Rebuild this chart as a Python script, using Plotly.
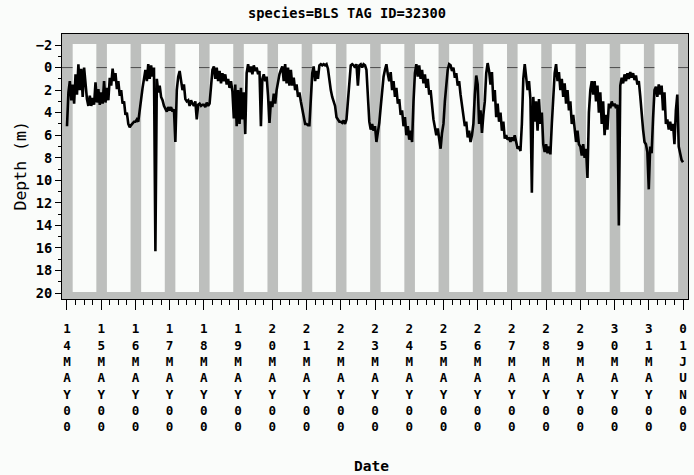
import pandas as pd
import plotly.graph_objects as go

# Hourly depth readings (m) for tag 32300, one list per day starting at 00:00
may14 = [5.2, 2.2, 1.2, 2.9, 1.5, 3.2, 0.6, 2.4, -0.3, 2.0, 0.1, 2.6, 0.0, 1.8, 2.8, 3.4, 2.5, 3.4, 2.7, 3.3, 1.3, 3.1, 1.9, 3.3]
may15 = [2.2, 3.2, 1.2, 3.1, 1.8, 2.9, 0.9, 1.6, 0.1, 1.2, 0.5, 1.9, 1.2, 2.5, 2.0, 3.2, 3.0, 4.2, 4.0, 5.0, 5.3, 5.1, 4.9, 4.8]
may16 = [4.8, 4.6, 4.8, 4.0, 2.8, 1.8, 1.1, 0.2, 1.2, -0.3, 1.0, -0.2, 0.8, 0.0, 16.3, 1.0, 2.2, 1.6, 2.6, 2.9, 3.4, 3.6, 3.9, 3.5]
may17 = [3.8, 3.5, 3.9, 3.7, 6.6, 2.0, 0.8, 0.3, 1.2, 2.0, 1.5, 2.8, 3.0, 2.9, 3.4, 2.9, 3.2, 3.4, 3.0, 4.6, 3.3, 3.2, 3.4, 3.3]
may18 = [3.3, 3.5, 3.1, 3.4, 3.2, 1.5, 0.2, -0.1, 1.0, 0.0, 1.2, 0.3, 1.4, 0.5, 1.2, 0.6, 1.5, 1.0, 1.8, 1.2, 2.1, 4.5, 1.5, 5.2]
may19 = [2.0, 5.0, 1.8, 4.6, 2.2, 5.9, 0.5, -0.3, 0.4, -0.1, 0.6, -0.2, 0.3, 0.0, 0.6, 0.3, 5.2, 1.0, 0.6, 1.2, 0.8, 2.5, 4.9, 3.0]
may20 = [3.5, 2.3, 3.2, 2.0, 1.2, 0.6, 0.2, -0.1, 1.2, -0.3, 1.4, 0.0, 1.6, 0.2, 1.6, 0.9, 2.0, 1.5, 2.6, 2.2, 3.0, 3.6, 4.3, 5.0]
may21 = [5.0, 5.1, 5.1, 3.0, 0.5, -0.1, 1.2, 0.3, 1.0, -0.2, -0.3, -0.2, -0.3, -0.2, -0.3, 0.1, 1.2, 2.0, 2.6, 3.0, 3.4, 4.4, 4.6, 4.8]
may22 = [4.8, 4.9, 4.7, 5.0, 4.6, 3.0, 1.0, -0.2, -0.3, -0.2, 0.0, -0.3, 1.6, -0.2, -0.3, 0.0, -0.3, -0.2, 0.2, 2.5, 4.8, 5.5, 5.0, 5.6]
may23 = [5.2, 6.6, 5.8, 4.9, 3.5, 2.0, 0.8, 0.2, -0.3, 0.6, 1.2, 0.4, 2.0, 1.2, 2.6, 1.8, 3.2, 2.8, 4.2, 3.8, 5.2, 4.4, 6.0, 5.2]
may24 = [6.4, 5.6, 6.6, 3.0, 0.5, -0.3, 0.8, -0.2, 1.0, 0.2, 1.4, 0.6, 1.8, 1.0, 2.4, 2.0, 3.4, 4.6, 5.3, 6.0, 5.4, 6.4, 7.2, 5.8]
may25 = [5.0, 3.0, 1.2, 0.2, -0.3, -0.2, 0.3, 0.0, 0.9, 0.5, 1.6, 1.2, 2.4, 3.4, 4.6, 5.2, 4.8, 6.2, 5.6, 6.6, 6.0, 5.0, 2.4, 0.7]
may26 = [1.5, 5.0, 3.8, 5.8, 4.2, 3.0, 0.5, -0.4, 0.3, 1.5, 0.4, 3.0, 2.0, 4.4, 3.2, 4.8, 4.0, 5.6, 4.8, 6.3, 6.0, 6.4, 6.2, 6.6]
may27 = [6.2, 6.5, 6.0, 6.8, 7.2, 7.0, 7.4, 5.0, 1.0, -0.3, 1.0, 2.0, 1.2, 2.8, 11.1, 2.6, 4.8, 3.0, 5.6, 2.8, 5.0, 4.0, 6.8, 7.5]
may28 = [6.8, 7.6, 7.0, 7.7, 5.0, 2.0, 0.5, -0.3, 1.2, 0.4, 2.0, 1.0, 2.6, 1.4, 3.2, 2.0, 3.8, 3.0, 5.0, 4.2, 5.8, 6.6, 5.6, 6.8]
may29 = [7.0, 7.8, 6.8, 8.0, 7.2, 9.8, 4.0, 2.0, 1.2, 2.4, 1.2, 3.0, 1.6, 4.0, 2.2, 5.0, 3.0, 6.0, 4.2, 5.5, 3.2, 3.6, 3.0, 3.4]
may30 = [3.2, 3.6, 3.3, 14.0, 1.6, 0.9, 1.4, 0.6, 1.2, 0.5, 1.0, 0.4, 0.9, 0.5, 1.1, 0.7, 1.5, 1.2, 2.5, 4.5, 5.5, 6.6, 6.8, 7.5]
may31 = [10.8, 7.0, 7.6, 4.5, 2.0, 1.7, 2.6, 1.5, 2.4, 1.6, 3.8, 2.2, 5.0, 4.6, 5.5, 4.8, 5.6, 5.0, 6.8, 3.8, 2.4, 7.0, 7.8, 8.2]
jun01 = [8.4]

daily = [may14, may15, may16, may17, may18, may19, may20, may21, may22,
         may23, may24, may25, may26, may27, may28, may29, may30, may31, jun01]
depth = [v for day in daily for v in day]
times = pd.date_range("2000-05-14 00:00", periods=len(depth), freq="h")

# Daylight window (local time) used for the shading
dawn, dusk = "04:00", "20:35"
light_days = pd.date_range("2000-05-14", "2000-05-31", freq="D")

tick_days = pd.date_range("2000-05-14", "2000-06-01", freq="D")
tick_text = ["<br>".join(d.strftime("%d%b%y").upper()) for d in tick_days]

depth_ticks = list(range(-2, 21, 2))

GRAY = "rgb(189,191,189)"
PAPER = "#fafcfa"

fig = go.Figure()
fig.add_trace(go.Scatter(x=times, y=depth, mode="lines",
                         line=dict(color="black", width=2.6),
                         hoverinfo="skip", showlegend=False))

shapes = [dict(type="line", xref="paper", x0=0, x1=1, yref="y", y0=0, y1=0,
               line=dict(color="#4a4a4a", width=1), layer="below")]
for d in light_days:
    day = d.strftime("%Y-%m-%d")
    shapes.append(dict(type="rect", xref="x", yref="y",
                       x0=f"{day} {dawn}", x1=f"{day} {dusk}",
                       y0=-2.1, y1=19.9, fillcolor=PAPER,
                       line=dict(width=0), layer="below"))

mono = "DejaVu Sans Mono"

fig.update_layout(
    width=694, height=475,
    margin=dict(l=62, r=6, t=34, b=176),
    paper_bgcolor=PAPER, plot_bgcolor=GRAY,
    shapes=shapes,
    title=dict(text="<b>species=BLS TAG ID=32300</b>",
               x=0.5, xref="container", xanchor="center",
               y=1 - 13 / 475, yref="container", yanchor="middle",
               font=dict(family=mono, size=13.7, color="black")),
    xaxis=dict(
        type="date",
        range=["2000-05-13 20:30", "2000-06-01 03:30"],
        tickmode="array", tickvals=tick_days, ticktext=tick_text,
        ticks="outside", ticklen=10, tickwidth=1, tickcolor="black",
        minor=dict(dtick=6 * 3600 * 1000, tick0="2000-05-14",
                   ticks="outside", ticklen=5, tickcolor="black", showgrid=False),
        showgrid=False, zeroline=False,
        showline=True, linecolor="black", linewidth=1, mirror=True,
        tickfont=dict(family=mono, size=12.6, color="black", weight="bold"),
        tickangle=0, ticklabelstandoff=8,
    ),
    yaxis=dict(
        range=[20.53, -2.98],
        tickmode="array", tickvals=depth_ticks,
        ticks="outside", ticklen=6, tickwidth=1, tickcolor="black",
        minor=dict(dtick=1, tick0=0, ticks="outside", ticklen=3,
                   tickcolor="black", showgrid=False),
        showgrid=False, zeroline=False,
        showline=True, linecolor="black", linewidth=1, mirror=True,
        tickfont=dict(family=mono, size=13.7, color="black", weight="bold"),
    ),
    annotations=[
        dict(text="Depth (m)", xref="paper", yref="paper", x=0, y=0.5,
             xanchor="center", yanchor="middle", xshift=-42, textangle=-90,
             showarrow=False, font=dict(family=mono, size=16.5, color="black")),
        dict(text="<b>Date</b>", xref="paper", yref="paper", x=0.5, y=0,
             xanchor="center", yanchor="middle", xshift=-4, yshift=-167,
             showarrow=False, font=dict(family=mono, size=14.5, color="black")),
    ],
)

fig.write_html("out.html", config={"displayModeBar": False})
